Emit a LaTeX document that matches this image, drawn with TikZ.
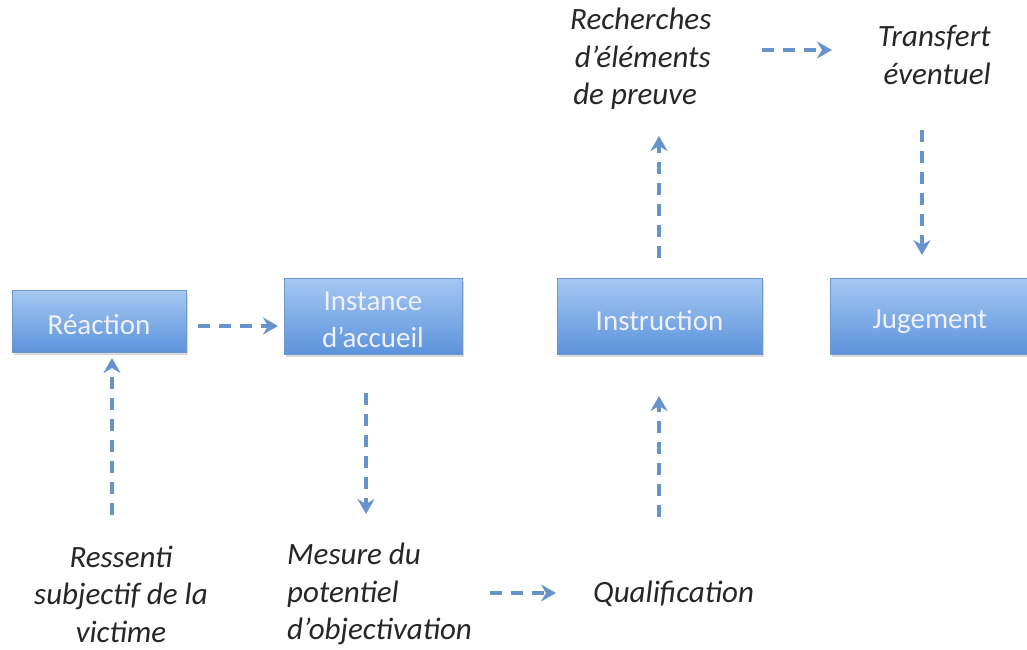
\documentclass[tikz,border=0pt]{standalone}
\usepackage{fontspec}
\setmainfont{Carlito}
\usetikzlibrary{arrows.meta,shadows}
\definecolor{boxtop}{HTML}{A6C8F2}
\definecolor{boxbot}{HTML}{5C93DC}
\definecolor{boxedge}{HTML}{6E97CC}
\definecolor{arr}{HTML}{6693CC}
\tikzset{
  box/.style={draw=boxedge, line width=0.6pt, top color=boxtop, bottom color=boxbot,
    drop shadow={shadow xshift=1.5pt, shadow yshift=-2.5pt, opacity=0.3}, inner sep=0pt},
  boxtext/.style={text=white!94!blue, font=\fontsize{29}{37}\selectfont, align=center, inner sep=0pt},
  lbl/.style={font=\fontsize{31}{37.5}\selectfont\itshape, text=black!85, inner sep=0pt},
  darr/.style={draw=arr, line width=3.4pt, dash pattern=on 12pt off 9pt, -{Stealth[length=15pt,width=17pt,inset=5pt]}}
}
\begin{document}
\begin{tikzpicture}[x=1pt,y=-1pt]
\useasboundingbox (0,0) rectangle (1027,649);
\node[box, minimum width=174pt, minimum height=62pt] (rea) at (99,321) {};
\node[boxtext] (reaT) at ([yshift=-4pt]rea.center) {Réaction};
\node[box, minimum width=178pt, minimum height=76pt] (ins) at (373,316) {};
\node[boxtext] (insT) at ([yshift=-4pt]ins.center) {Instance\\d’accueil};
\node[box, minimum width=205pt, minimum height=76pt] (instr) at (659.5,316) {};
\node[boxtext] (instrT) at ([yshift=-5pt]instr.center) {Instruction};
\node[box, minimum width=200pt, minimum height=76pt] (jug) at (930,316) {};
\node[boxtext] (jugT) at ([yshift=-6pt]jug.center) {Jugement};

\node[lbl, align=center] (res) at (121,594) {Ressenti\\subjectif de la\\victime};
\node[lbl, align=left, anchor=west] (mes) at (287,594) {Mesure du\\potentiel\\d’objectivation};
\node[lbl, anchor=west] (qual) at (593,594) {Qualification};
\node[lbl, align=left, anchor=west] (rech) at (570,59) {Recherches\\\hspace*{0.15em}d’éléments\\\hspace*{0.1em}de preuve};
\node[lbl, align=right, anchor=east] (tra) at (991,55) {Transfert\\éventuel};

\coordinate (a1s) at (198,326); \coordinate (a1e) at (278,326);
\draw[darr] (a1s) -- (a1e);
\coordinate (a2s) at (112,515); \coordinate (a2e) at (112,358);
\draw[darr] (a2s) -- (a2e);
\coordinate (a3s) at (366,393); \coordinate (a3e) at (366,514);
\draw[darr] (a3s) -- (a3e);
\coordinate (a4s) at (490,593); \coordinate (a4e) at (556,593);
\draw[darr] (a4s) -- (a4e);
\coordinate (a5s) at (659,517); \coordinate (a5e) at (659,396);
\draw[darr] (a5s) -- (a5e);
\coordinate (a6s) at (659,258); \coordinate (a6e) at (659,136);
\draw[darr] (a6s) -- (a6e);
\coordinate (a7s) at (762,50); \coordinate (a7e) at (832,50);
\draw[darr] (a7s) -- (a7e);
\coordinate (a8s) at (922,130); \coordinate (a8e) at (922,255);
\draw[darr] (a8s) -- (a8e);
\end{tikzpicture}
\end{document}
